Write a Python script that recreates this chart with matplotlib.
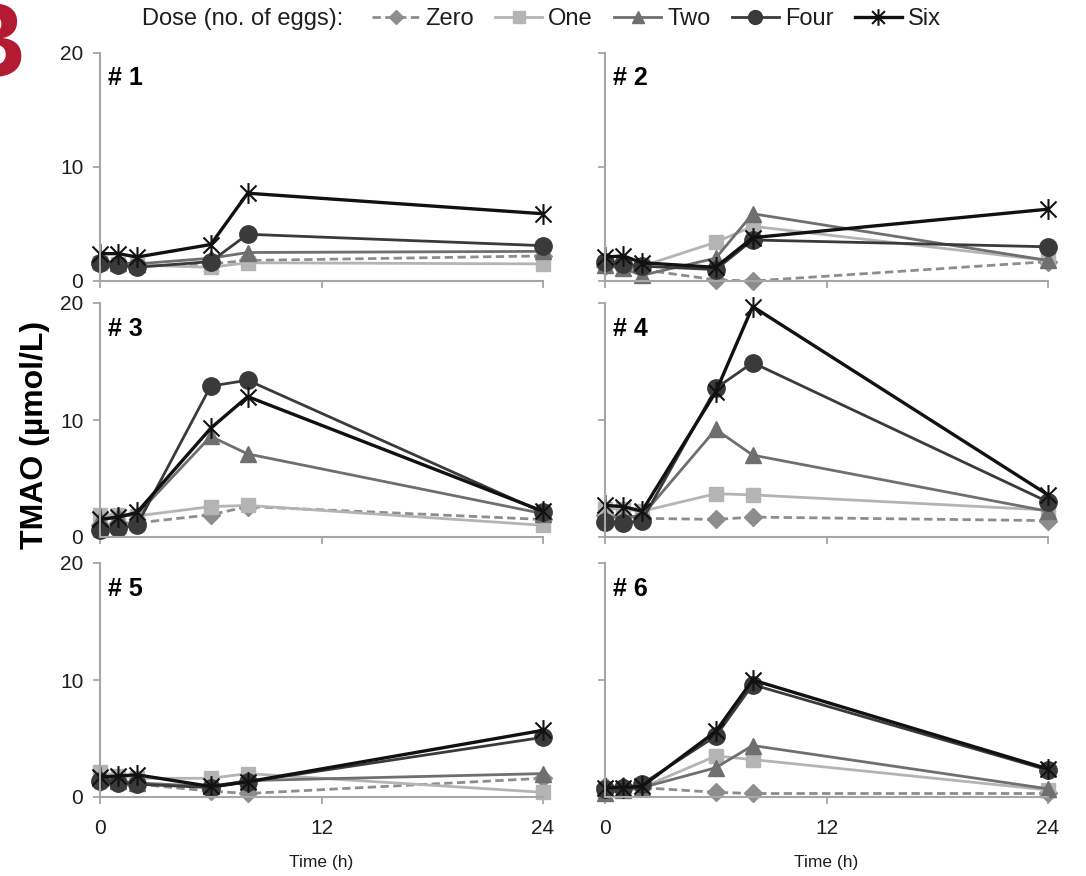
import matplotlib.pyplot as plt
import numpy as np
from matplotlib.path import Path
from matplotlib.lines import Line2D

plt.rcParams['font.family'] = ['Liberation Sans', 'DejaVu Sans']

hours = [0, 1, 2, 6, 8, 24]
doses = ["Zero", "One", "Two", "Four", "Six"]

# TMAO (umol/L) per subject, one list per dose
zero = {1: [1.5, 1.4, 1.3, 1.5, 1.8, 2.2],
        2: [1.3, 1.2, 1.0, 0.1, 0.0, 1.7],
        3: [1.0, 1.2, 1.2, 1.9, 2.6, 1.5],
        4: [1.9, 1.8, 1.6, 1.5, 1.7, 1.4],
        5: [1.3, 1.2, 1.1, 0.5, 0.3, 1.6],
        6: [0.9, 0.9, 0.8, 0.4, 0.3, 0.3]}
one = {1: [1.6, 1.5, 1.4, 1.2, 1.6, 1.5],
       2: [1.6, 1.5, 1.3, 3.4, 4.8, 1.8],
       3: [1.9, 1.9, 1.8, 2.6, 2.7, 1.0],
       4: [2.4, 2.4, 2.2, 3.7, 3.6, 2.3],
       5: [2.1, 1.8, 1.6, 1.6, 2.0, 0.4],
       6: [0.5, 0.6, 0.8, 3.5, 3.2, 0.6]}
two = {1: [1.8, 1.6, 1.5, 2.0, 2.5, 2.6],
       2: [1.4, 1.1, 0.5, 2.0, 5.9, 1.8],
       3: [1.5, 1.8, 1.9, 8.6, 7.1, 2.0],
       4: [1.7, 1.7, 1.8, 9.2, 7.0, 2.2],
       5: [1.6, 1.4, 1.2, 0.9, 1.4, 2.0],
       6: [0.3, 0.6, 0.8, 2.5, 4.4, 0.7]}
four = {1: [1.6, 1.4, 1.2, 1.7, 4.1, 3.1],
        2: [1.7, 1.5, 1.3, 1.0, 3.6, 3.0],
        3: [0.6, 0.8, 1.0, 12.9, 13.4, 2.1],
        4: [1.3, 1.2, 1.4, 12.7, 14.9, 3.0],
        5: [1.4, 1.2, 1.1, 0.8, 1.3, 5.1],
        6: [0.7, 0.8, 1.1, 5.2, 9.6, 2.3]}
six = {1: [2.4, 2.4, 2.1, 3.2, 7.7, 5.9],
       2: [2.1, 2.2, 1.6, 1.2, 3.8, 6.3],
       3: [1.5, 1.7, 2.1, 9.3, 12.0, 2.2],
       4: [2.7, 2.6, 2.2, 12.4, 19.7, 3.6],
       5: [1.7, 1.8, 1.9, 0.9, 1.3, 5.7],
       6: [0.8, 0.8, 0.9, 5.6, 10.0, 2.4]}

# asterisk like the spreadsheet one: an X with a vertical bar
star = Path([(-1, -1), (1, 1), (-1, 1), (1, -1), (0, -1.3), (0, 1.3)],
            [Path.MOVETO, Path.LINETO, Path.MOVETO, Path.LINETO,
             Path.MOVETO, Path.LINETO])

styles = {
    "Zero": dict(color="#8d8d8d", ls=(0, (3, 1.6)), marker="D", ms=9, lw=2),
    "One": dict(color="#b4b4b4", ls="-", marker="s", ms=10, lw=2),
    "Two": dict(color="#6f6f6f", ls="-", marker="^", ms=11, lw=2),
    "Four": dict(color="#3a3a3a", ls="-", marker="o", ms=12.5, lw=2),
    "Six": dict(color="#111111", ls="-", marker=star, ms=15, lw=2.4, mew=1.5),
}
series = {"Zero": zero, "One": one, "Two": two, "Four": four, "Six": six}

fig = plt.figure(figsize=(10.86, 8.76), dpi=100)

W, H = 1086, 876
lefts = [100, 605]
widths = [443, 443]
rows = [(53, 281), (303, 537), (563, 797)]
axis_grey = "#a6a6a6"

for i in range(6):
    r, c = divmod(i, 2)
    top, bot = rows[r]
    ax = fig.add_axes([lefts[c] / W, 1 - bot / H, widths[c] / W, (bot - top) / H])
    for d in doses:
        st = styles[d]
        ax.plot(hours, series[d][i + 1], color=st["color"], ls=st["ls"], lw=st["lw"],
                marker=st["marker"], ms=st["ms"], mfc=st["color"], mec=st["color"],
                mew=st.get("mew", 1), clip_on=False)
    ax.set_xlim(0, 24)
    ax.set_ylim(0, 20)
    ax.set_xticks([0, 12, 24])
    ax.set_yticks([0, 10, 20])
    for s in ["top", "right"]:
        ax.spines[s].set_visible(False)
    for s in ["left", "bottom"]:
        ax.spines[s].set_color(axis_grey)
        ax.spines[s].set_linewidth(1.5)
    ax.tick_params(colors=axis_grey, labelcolor="#1e1e1e", labelsize=15,
                   length=5, width=1.3, pad=7)
    ax.tick_params(axis="x", pad=11)
    if c == 1:
        ax.tick_params(axis="y", labelleft=False)
    if r < 2:
        ax.tick_params(axis="x", labelbottom=False)
    else:
        ax.set_xlabel("Time (h)", fontsize=12.5, color="#1e1e1e", labelpad=12)
    ax.text(0.018, 0.89, "# %d" % (i + 1), transform=ax.transAxes,
            fontsize=18, fontweight="bold", va="center", ha="left")

fig.text(35 / W, 1 - 435 / H, "TMAO (µmol/L)", rotation=90, fontsize=23,
         fontweight="bold", ha="center", va="center")

# cropped panel letter at the top left corner
fig.text(26 / W, 1 - 77 / H, "B", fontsize=78, fontweight="bold",
         color="#b31b32", ha="right", va="baseline")

fig.text(142 / W, 1 - 19 / H, "Dose (no. of eggs):", fontsize=17,
         ha="left", va="center", color="#1e1e1e")
handles = []
for d in doses:
    st = styles[d]
    handles.append(Line2D([], [], color=st["color"], ls=st["ls"], lw=st["lw"],
                          marker=st["marker"], ms=st["ms"] * 0.8,
                          mfc=st["color"], mec=st["color"],
                          mew=st.get("mew", 1)))
fig.legend(handles, doses, loc="center left", bbox_to_anchor=(372 / W, 1 - 19 / H),
           ncol=5, frameon=False, fontsize=17, handlelength=2.0,
           handletextpad=0.25, columnspacing=0.9, borderaxespad=0,
           borderpad=0, labelcolor="#1e1e1e")

fig.savefig("out.png", dpi=100)
